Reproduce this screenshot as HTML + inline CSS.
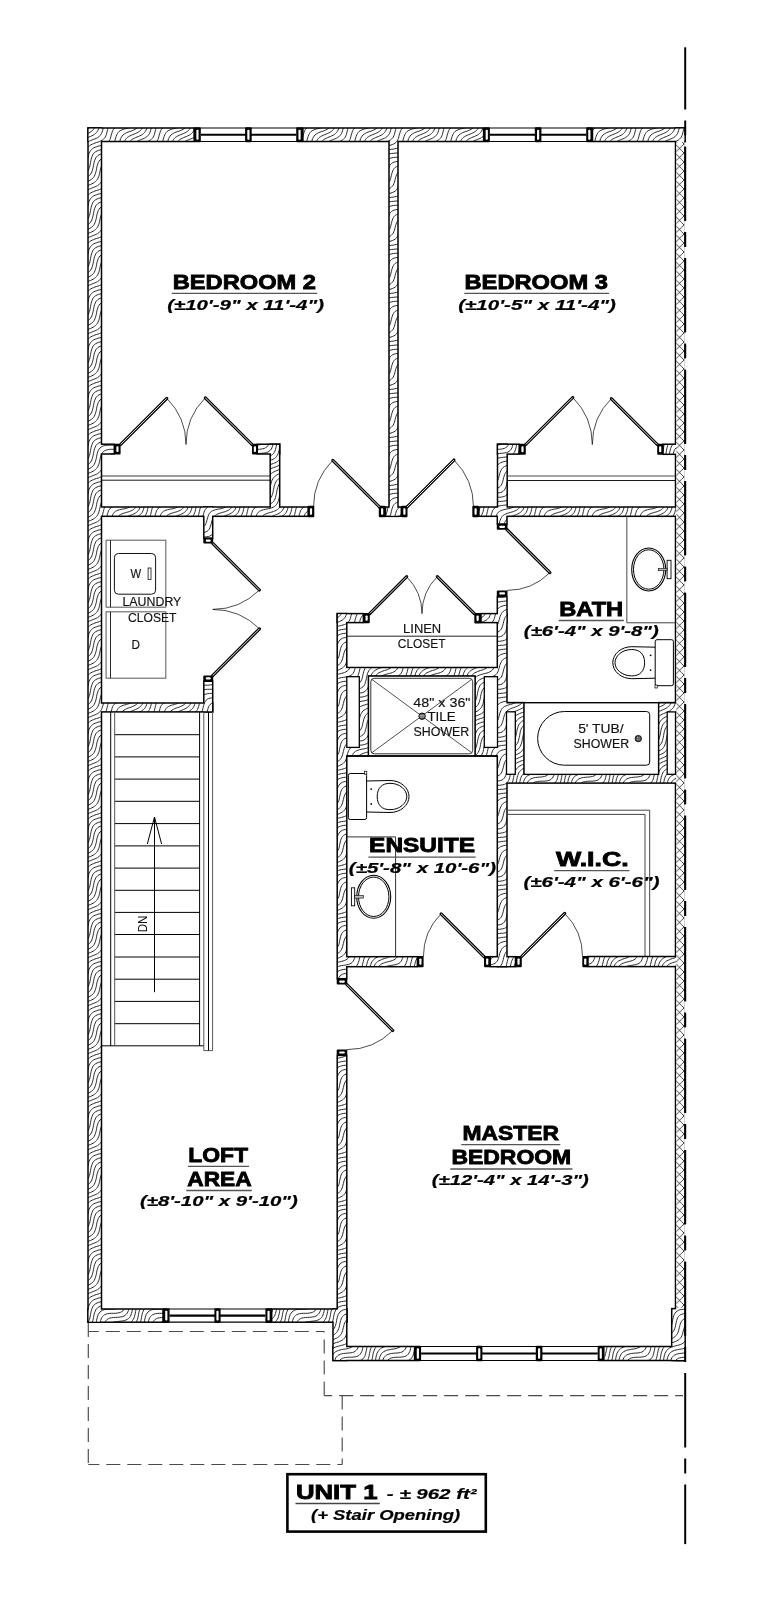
<!DOCTYPE html><html><head><meta charset="utf-8"><style>html,body{margin:0;padding:0;background:#fff;width:783px;height:1597px;overflow:hidden}svg{display:block;filter:grayscale(1)}text{font-family:"Liberation Sans",sans-serif}</style></head><body>
<svg width="783" height="1597" viewBox="0 0 783 1597">
<defs>
<pattern id="h" patternUnits="userSpaceOnUse" width="48" height="48"><rect width="48" height="48" fill="#fff"/><path d="M6.2,-3.8 L4.9,-3.1 L3.5,-2.5 L2.1,-1.9 L0.5,-1.5 L-1.0,-1.0 L-2.4,-0.4 L-3.8,0.2 M13.1,-2.9 L12.2,-1.8 L11.1,-0.9 L9.9,-0.1 L8.5,0.5 L7.0,1.0 L5.4,1.4 L3.8,1.8 L2.2,2.2 L0.7,2.7 L-0.8,3.2 L-2.2,3.8 L-3.4,4.6 M18.9,-3.1 L18.4,-1.6 L17.9,-0.1 L17.2,1.2 L16.3,2.3 L15.2,3.2 L13.9,3.9 L12.4,4.4 L10.8,4.8 L9.1,5.1 L7.3,5.3 L5.6,5.6 L4.0,6.0 L2.4,6.4 L1.0,7.0 L-0.3,7.7 L-1.5,8.5 L-2.4,9.6 L-3.2,10.8 L-3.9,12.1 M24.1,-3.9 L23.7,-2.3 L23.3,-0.7 L22.9,0.9 L22.4,2.4 L21.9,3.9 L21.2,5.2 L20.3,6.3 L19.2,7.2 L18.0,8.0 L16.5,8.5 L14.8,8.8 L13.0,9.0 L11.1,9.1 L9.3,9.3 L7.5,9.5 L5.8,9.8 L4.3,10.3 L2.9,10.9 L1.7,11.7 L0.7,12.7 L-0.2,13.8 L-0.8,15.2 L-1.4,16.6 L-1.8,18.2 L-2.2,19.8 L-2.5,21.5 L-2.8,23.2 L-3.2,24.8 L-3.6,26.4 M28.8,-3.2 L28.2,-1.8 L27.7,-0.3 L27.3,1.3 L26.9,2.9 L26.6,4.6 L26.2,6.2 L25.7,7.7 L25.0,9.0 L24.2,10.2 L23.2,11.2 L22.0,12.0 L20.5,12.5 L18.9,12.9 L17.1,13.1 L15.2,13.2 L13.2,13.2 L11.3,13.3 L9.5,13.5 L7.8,13.8 L6.3,14.3 L5.1,15.1 L4.0,16.0 L3.1,17.1 L2.3,18.3 L1.8,19.8 L1.3,21.3 L0.9,22.9 L0.6,24.6 L0.3,26.3 L-0.1,27.9 L-0.5,29.5 L-1.1,30.9 L-1.7,32.3 L-2.6,33.4 L-3.5,34.5 M34.6,-3.4 L33.6,-2.4 L32.8,-1.2 L32.1,0.1 L31.5,1.5 L31.1,3.1 L30.7,4.7 L30.4,6.4 L30.0,8.0 L29.6,9.6 L29.2,11.2 L28.6,12.6 L27.8,13.8 L26.9,14.9 L25.7,15.7 L24.4,16.4 L22.8,16.8 L21.1,17.1 L19.3,17.3 L17.3,17.3 L15.3,17.3 L13.4,17.4 L11.7,17.7 L10.1,18.1 L8.7,18.7 L7.5,19.5 L6.5,20.5 L5.7,21.7 L5.1,23.1 L4.6,24.6 L4.2,26.2 L3.9,27.9 L3.5,29.5 L3.2,31.2 L2.7,32.7 L2.1,34.1 L1.4,35.4 L0.5,36.5 L-0.5,37.5 L-1.6,38.4 L-2.8,39.2 M42.6,-3.4 L41.2,-2.8 L39.9,-2.1 L38.7,-1.3 L37.6,-0.4 L36.7,0.7 L35.9,1.9 L35.2,3.2 L34.7,4.7 L34.2,6.2 L33.9,7.9 L33.5,9.5 L33.2,11.2 L32.9,12.9 L32.4,14.4 L31.9,15.9 L31.2,17.2 L30.3,18.3 L29.2,19.2 L28.0,20.0 L26.6,20.6 L24.9,20.9 L23.2,21.2 L21.3,21.3 L19.4,21.4 L17.5,21.5 L15.7,21.7 L14.0,22.0 L12.6,22.6 L11.3,23.3 L10.3,24.3 L9.4,25.4 L8.8,26.8 L8.2,28.2 L7.8,29.8 L7.4,31.4 L7.0,33.0 L6.6,34.6 L6.1,36.1 L5.5,37.5 L4.7,38.7 L3.8,39.8 L2.8,40.8 L1.6,41.6 L0.3,42.3 L-1.1,42.9 L-2.6,43.4 M50.1,-1.9 L48.5,-1.5 L47.0,-1.0 L45.6,-0.4 L44.2,0.2 L42.8,0.8 L41.6,1.6 L40.6,2.6 L39.6,3.6 L38.8,4.8 L38.2,6.2 L37.7,7.7 L37.2,9.2 L36.9,10.9 L36.6,12.6 L36.3,14.3 L35.9,15.9 L35.5,17.5 L35.0,19.0 L34.3,20.3 L33.5,21.5 L32.5,22.5 L31.3,23.3 L30.0,24.0 L28.5,24.5 L26.9,24.9 L25.1,25.1 L23.3,25.3 L21.5,25.5 L19.8,25.8 L18.1,26.1 L16.6,26.6 L15.3,27.3 L14.2,28.2 L13.4,29.4 L12.6,30.6 L12.1,32.1 L11.6,33.6 L11.2,35.2 L10.8,36.8 L10.4,38.4 L9.8,39.8 L9.2,41.2 L8.3,42.3 L7.3,43.3 L6.2,44.2 L4.9,44.9 L3.5,45.5 L2.1,46.1 L0.5,46.5 L-1.0,47.0 L-2.4,47.6 L-3.8,48.2 M51.8,1.8 L50.2,2.2 L48.7,2.7 L47.2,3.2 L45.8,3.8 L44.6,4.6 L43.5,5.5 L42.6,6.6 L41.8,7.8 L41.1,9.1 L40.6,10.6 L40.2,12.2 L39.9,13.9 L39.6,15.6 L39.3,17.3 L38.9,18.9 L38.5,20.5 L38.0,22.0 L37.3,23.3 L36.5,24.5 L35.6,25.6 L34.5,26.5 L33.2,27.2 L31.8,27.8 L30.3,28.3 L28.7,28.7 L27.0,29.0 L25.3,29.3 L23.7,29.7 L22.1,30.1 L20.7,30.7 L19.4,31.4 L18.3,32.3 L17.4,33.4 L16.7,34.7 L16.1,36.1 L15.7,37.7 L15.2,39.2 L14.8,40.8 L14.4,42.4 L13.8,43.8 L13.1,45.1 L12.2,46.2 L11.1,47.1 L9.9,47.9 L8.5,48.5 L7.0,49.0 L5.4,49.4 L3.8,49.8 L2.2,50.2 L0.7,50.7 L-0.8,51.2 M52.0,6.0 L50.4,6.4 L49.0,7.0 L47.7,7.7 L46.5,8.5 L45.6,9.6 L44.8,10.8 L44.1,12.1 L43.6,13.6 L43.2,15.2 L42.8,16.8 L42.5,18.5 L42.2,20.2 L41.9,21.9 L41.4,23.4 L40.9,24.9 L40.3,26.3 L39.5,27.5 L38.6,28.6 L37.5,29.5 L36.3,30.3 L34.9,30.9 L33.5,31.5 L32.0,32.0 L30.4,32.4 L28.9,32.9 L27.3,33.3 L25.9,33.9 L24.5,34.5 L23.3,35.3 L22.3,36.3 L21.5,37.5 L20.8,38.8 L20.2,40.2 L19.7,41.7 L19.3,43.3 L18.9,44.9 L18.4,46.4 L17.9,47.9 L17.2,49.2 L16.3,50.3 L15.2,51.2 L13.9,51.9 M50.9,10.9 L49.7,11.7 L48.7,12.7 L47.8,13.8 L47.2,15.2 L46.6,16.6 L46.2,18.2 L45.8,19.8 L45.5,21.5 L45.2,23.2 L44.8,24.8 L44.4,26.4 L43.9,27.9 L43.2,29.2 L42.4,30.4 L41.5,31.5 L40.4,32.4 L39.2,33.2 L37.9,33.9 L36.5,34.5 L35.1,35.1 L33.6,35.6 L32.1,36.1 L30.7,36.7 L29.4,37.4 L28.1,38.1 L27.0,39.0 L26.1,40.1 L25.3,41.3 L24.6,42.6 L24.1,44.1 L23.7,45.7 L23.3,47.3 L22.9,48.9 L22.4,50.4 L21.9,51.9 M52.0,16.0 L51.1,17.1 L50.3,18.3 L49.8,19.8 L49.3,21.3 L48.9,22.9 L48.6,24.6 L48.3,26.3 L47.9,27.9 L47.5,29.5 L46.9,30.9 L46.3,32.3 L45.4,33.4 L44.5,34.5 L43.4,35.4 L42.2,36.2 L40.9,36.9 L39.5,37.5 L38.1,38.1 L36.7,38.7 L35.2,39.2 L33.9,39.9 L32.6,40.6 L31.4,41.4 L30.4,42.4 L29.5,43.5 L28.8,44.8 L28.2,46.2 L27.7,47.7 L27.3,49.3 L26.9,50.9 M51.9,27.9 L51.5,29.5 L51.2,31.2 L50.7,32.7 L50.1,34.1 L49.4,35.4 L48.5,36.5 L47.5,37.5 L46.4,38.4 L45.2,39.2 L43.8,39.8 L42.5,40.5 L41.0,41.0 L39.6,41.6 L38.2,42.2 L36.9,42.9 L35.7,43.7 L34.6,44.6 L33.6,45.6 L32.8,46.8 L32.1,48.1 L31.5,49.5 L31.1,51.1 M51.8,39.8 L50.8,40.8 L49.6,41.6 L48.3,42.3 L46.9,42.9 L45.4,43.4 L44.0,44.0 L42.6,44.6 L41.2,45.2 L39.9,45.9 L38.7,46.7 L37.6,47.6 L36.7,48.7 L35.9,49.9 L35.2,51.2 M51.5,45.5 L50.1,46.1 L48.5,46.5 L47.0,47.0 L45.6,47.6 L44.2,48.2 L42.8,48.8 L41.6,49.6 L40.6,50.6 L39.6,51.6 M51.8,49.8 L50.2,50.2 L48.7,50.7 L47.2,51.2 L45.8,51.8" fill="none" stroke="#111" stroke-width="0.9" stroke-linejoin="round"/></pattern>
<pattern id="xh" patternUnits="userSpaceOnUse" width="9.5" height="9"><rect width="9.5" height="9" fill="#fff"/><path d="M-1,10 C3,6.5 6,3.5 10.5,-1 M-1,-1 C3,2 6,5.5 10.5,10" stroke="#333" stroke-width="0.95" fill="none"/></pattern>
</defs>
<rect width="783" height="1597" fill="#fff"/>
<g fill="#000">
<rect x="87.25" y="127.25" width="107.60" height="15.00" />
<rect x="302.15" y="127.25" width="182.20" height="15.00" />
<rect x="591.75" y="127.25" width="94.00" height="15.00" />
<rect x="87.25" y="127.25" width="15.00" height="1195.70" />
<rect x="674.75" y="127.25" width="11.00" height="1234.00" />
<rect x="670.95" y="1307.85" width="14.80" height="53.40" />
<rect x="87.25" y="1308.25" width="76.50" height="14.70" />
<rect x="270.95" y="1308.25" width="76.60" height="14.70" />
<rect x="332.25" y="1308.25" width="15.30" height="53.00" />
<rect x="332.25" y="1345.75" width="83.10" height="15.50" />
<rect x="603.05" y="1345.75" width="82.70" height="15.50" />
<rect x="388.25" y="129.25" width="10.50" height="387.80" />
<rect x="89.25" y="443.45" width="25.80" height="11.30" />
<rect x="256.55" y="443.45" width="23.90" height="11.30" />
<rect x="269.45" y="443.45" width="11.00" height="73.60" />
<rect x="89.25" y="506.25" width="219.80" height="10.80" />
<rect x="384.75" y="506.25" width="17.30" height="10.80" />
<rect x="478.15" y="506.25" width="205.60" height="10.80" />
<rect x="496.75" y="443.45" width="11.20" height="73.60" />
<rect x="496.75" y="443.45" width="23.20" height="11.40" />
<rect x="662.25" y="443.45" width="21.50" height="11.60" />
<rect x="203.05" y="506.25" width="10.40" height="32.70" />
<rect x="203.05" y="680.45" width="10.40" height="32.20" />
<rect x="89.25" y="702.25" width="124.20" height="10.40" />
<rect x="496.55" y="506.25" width="11.20" height="18.60" />
<rect x="496.55" y="595.75" width="11.20" height="371.60" />
<rect x="336.45" y="612.85" width="11.10" height="366.60" />
<rect x="336.45" y="1054.65" width="11.10" height="268.10" />
<rect x="336.45" y="612.85" width="27.70" height="10.50" />
<rect x="480.25" y="612.85" width="27.50" height="10.50" />
<rect x="337.25" y="666.75" width="169.50" height="10.10" />
<rect x="337.25" y="667.25" width="32.00" height="89.50" />
<rect x="474.25" y="667.25" width="32.50" height="89.50" />
<rect x="497.25" y="701.85" width="27.60" height="80.90" />
<rect x="657.75" y="701.85" width="26.00" height="80.90" />
<rect x="497.25" y="773.55" width="186.50" height="10.30" />
<rect x="337.25" y="955.95" width="80.90" height="11.50" />
<rect x="489.45" y="955.95" width="26.80" height="11.50" />
<rect x="587.15" y="955.75" width="96.60" height="11.60" />
</g><g fill="url(#h)">
<rect x="88.75" y="128.75" width="104.60" height="12.00" />
<rect x="303.65" y="128.75" width="179.20" height="12.00" />
<rect x="593.25" y="128.75" width="91.00" height="12.00" />
<rect x="88.75" y="128.75" width="12.00" height="1192.70" />
<rect x="676.25" y="128.75" width="8.00" height="1231.00" />
<rect x="672.45" y="1309.35" width="11.80" height="50.40" />
<rect x="88.75" y="1309.75" width="73.50" height="11.70" />
<rect x="272.45" y="1309.75" width="73.60" height="11.70" />
<rect x="333.75" y="1309.75" width="12.30" height="50.00" />
<rect x="333.75" y="1347.25" width="80.10" height="12.50" />
<rect x="604.55" y="1347.25" width="79.70" height="12.50" />
<rect x="389.75" y="130.75" width="7.50" height="384.80" />
<rect x="90.75" y="444.95" width="22.80" height="8.30" />
<rect x="258.05" y="444.95" width="20.90" height="8.30" />
<rect x="270.95" y="444.95" width="8.00" height="70.60" />
<rect x="90.75" y="507.75" width="216.80" height="7.80" />
<rect x="386.25" y="507.75" width="14.30" height="7.80" />
<rect x="479.65" y="507.75" width="202.60" height="7.80" />
<rect x="498.25" y="444.95" width="8.20" height="70.60" />
<rect x="498.25" y="444.95" width="20.20" height="8.40" />
<rect x="663.75" y="444.95" width="18.50" height="8.60" />
<rect x="204.55" y="507.75" width="7.40" height="29.70" />
<rect x="204.55" y="681.95" width="7.40" height="29.20" />
<rect x="90.75" y="703.75" width="121.20" height="7.40" />
<rect x="498.05" y="507.75" width="8.20" height="15.60" />
<rect x="498.05" y="597.25" width="8.20" height="368.60" />
<rect x="337.95" y="614.35" width="8.10" height="363.60" />
<rect x="337.95" y="1056.15" width="8.10" height="265.10" />
<rect x="337.95" y="614.35" width="24.70" height="7.50" />
<rect x="481.75" y="614.35" width="24.50" height="7.50" />
<rect x="338.75" y="668.25" width="166.50" height="7.10" />
<rect x="338.75" y="668.75" width="29.00" height="86.50" />
<rect x="475.75" y="668.75" width="29.50" height="86.50" />
<rect x="498.75" y="703.35" width="24.60" height="77.90" />
<rect x="659.25" y="703.35" width="23.00" height="77.90" />
<rect x="498.75" y="775.05" width="183.50" height="7.30" />
<rect x="338.75" y="957.45" width="77.90" height="8.50" />
<rect x="490.95" y="957.45" width="23.80" height="8.50" />
<rect x="588.65" y="957.25" width="93.60" height="8.60" />
</g>
<rect x="676.25" y="142.20" width="8.00" height="1165.60" fill="url(#xh)"/>
<rect x="346.80" y="676.70" width="12.50" height="70.70" fill="#fff" stroke="#000" stroke-width="1.3"/>
<rect x="484.30" y="676.70" width="13.20" height="70.70" fill="#fff" stroke="#000" stroke-width="1.3"/>
<rect x="506.50" y="711.80" width="8.80" height="62.50" fill="#fff" stroke="#000" stroke-width="1.3"/>
<rect x="667.20" y="711.90" width="8.30" height="62.40" fill="#fff" stroke="#000" stroke-width="1.3"/>
<rect x="114.30" y="443.70" width="6.30" height="10.80" fill="#000" rx="1"/><rect x="116.35" y="446.20" width="2.20" height="5.80" fill="#fff" rx="0.8"/>
<rect x="252.00" y="443.70" width="5.80" height="10.80" fill="#000" rx="1"/><rect x="253.80" y="446.20" width="2.20" height="5.80" fill="#fff" rx="0.8"/>
<rect x="307.70" y="505.70" width="6.60" height="11.50" fill="#000" rx="1"/><rect x="309.90" y="508.20" width="2.20" height="6.50" fill="#fff" rx="0.8"/>
<rect x="378.80" y="505.70" width="6.70" height="11.50" fill="#000" rx="1"/><rect x="381.05" y="508.20" width="2.20" height="6.50" fill="#fff" rx="0.8"/>
<rect x="401.30" y="505.70" width="6.20" height="11.50" fill="#000" rx="1"/><rect x="403.30" y="508.20" width="2.20" height="6.50" fill="#fff" rx="0.8"/>
<rect x="472.30" y="505.70" width="6.60" height="11.50" fill="#000" rx="1"/><rect x="474.50" y="508.20" width="2.20" height="6.50" fill="#fff" rx="0.8"/>
<rect x="519.20" y="443.80" width="6.60" height="11.00" fill="#000" rx="1"/><rect x="521.40" y="446.30" width="2.20" height="6.00" fill="#fff" rx="0.8"/>
<rect x="657.20" y="443.80" width="6.00" height="11.00" fill="#000" rx="1"/><rect x="659.10" y="446.30" width="2.20" height="6.00" fill="#fff" rx="0.8"/>
<rect x="203.30" y="537.80" width="9.90" height="5.80" fill="#000" rx="1"/><rect x="205.80" y="539.60" width="4.90" height="2.20" fill="#fff" rx="0.8"/>
<rect x="203.30" y="675.40" width="9.90" height="6.00" fill="#000" rx="1"/><rect x="205.80" y="677.30" width="4.90" height="2.20" fill="#fff" rx="0.8"/>
<rect x="496.80" y="523.80" width="10.70" height="6.00" fill="#000" rx="1"/><rect x="499.30" y="525.70" width="5.70" height="2.20" fill="#fff" rx="0.8"/>
<rect x="496.80" y="590.40" width="10.70" height="6.10" fill="#000" rx="1"/><rect x="499.30" y="592.35" width="5.70" height="2.20" fill="#fff" rx="0.8"/>
<rect x="363.40" y="613.00" width="6.40" height="10.20" fill="#000" rx="1"/><rect x="365.50" y="615.50" width="2.20" height="5.20" fill="#fff" rx="0.8"/>
<rect x="474.30" y="613.00" width="6.70" height="10.40" fill="#000" rx="1"/><rect x="476.55" y="615.50" width="2.20" height="5.40" fill="#fff" rx="0.8"/>
<rect x="417.20" y="956.00" width="6.40" height="11.30" fill="#000" rx="1"/><rect x="419.30" y="958.50" width="2.20" height="6.30" fill="#fff" rx="0.8"/>
<rect x="484.00" y="956.00" width="6.40" height="11.30" fill="#000" rx="1"/><rect x="486.10" y="958.50" width="2.20" height="6.30" fill="#fff" rx="0.8"/>
<rect x="515.30" y="956.00" width="6.50" height="11.30" fill="#000" rx="1"/><rect x="517.45" y="958.50" width="2.20" height="6.30" fill="#fff" rx="0.8"/>
<rect x="582.30" y="956.00" width="5.90" height="11.30" fill="#000" rx="1"/><rect x="584.15" y="958.50" width="2.20" height="6.30" fill="#fff" rx="0.8"/>
<rect x="336.70" y="978.50" width="10.60" height="6.10" fill="#000" rx="1"/><rect x="339.20" y="980.45" width="5.60" height="2.20" fill="#fff" rx="0.8"/>
<rect x="336.70" y="1049.50" width="10.60" height="6.00" fill="#000" rx="1"/><rect x="339.20" y="1051.40" width="5.60" height="2.20" fill="#fff" rx="0.8"/>
<g stroke="#000" fill="none"><line x1="194.1" y1="128" x2="302.9" y2="128" stroke-width="1.2"/><line x1="194.1" y1="141.5" x2="302.9" y2="141.5" stroke-width="1.2"/><line x1="200.8" y1="134.75" x2="296.2" y2="134.75" stroke-width="2.2"/></g><rect x="194.10" y="127.20" width="6.70" height="15.10" fill="#000" rx="1"/><rect x="196.35" y="129.70" width="2.20" height="10.10" fill="#fff" rx="0.8"/><rect x="245.10" y="127.20" width="6.60" height="15.10" fill="#000" rx="1"/><rect x="247.30" y="129.70" width="2.20" height="10.10" fill="#fff" rx="0.8"/><rect x="296.20" y="127.20" width="6.70" height="15.10" fill="#000" rx="1"/><rect x="298.45" y="129.70" width="2.20" height="10.10" fill="#fff" rx="0.8"/>
<g stroke="#000" fill="none"><line x1="483.6" y1="128" x2="592.5" y2="128" stroke-width="1.2"/><line x1="483.6" y1="141.5" x2="592.5" y2="141.5" stroke-width="1.2"/><line x1="489.9" y1="134.75" x2="586.2" y2="134.75" stroke-width="2.2"/></g><rect x="483.60" y="127.20" width="6.30" height="15.10" fill="#000" rx="1"/><rect x="485.65" y="129.70" width="2.20" height="10.10" fill="#fff" rx="0.8"/><rect x="534.80" y="127.20" width="6.60" height="15.10" fill="#000" rx="1"/><rect x="537.00" y="129.70" width="2.20" height="10.10" fill="#fff" rx="0.8"/><rect x="586.20" y="127.20" width="6.30" height="15.10" fill="#000" rx="1"/><rect x="588.25" y="129.70" width="2.20" height="10.10" fill="#fff" rx="0.8"/>
<g stroke="#000" fill="none"><line x1="163" y1="1309" x2="271.7" y2="1309" stroke-width="1.2"/><line x1="163" y1="1322.2" x2="271.7" y2="1322.2" stroke-width="1.2"/><line x1="169.6" y1="1315.6" x2="265.4" y2="1315.6" stroke-width="2.2"/></g><rect x="163.00" y="1308.20" width="6.60" height="14.80" fill="#000" rx="1"/><rect x="165.20" y="1310.70" width="2.20" height="9.80" fill="#fff" rx="0.8"/><rect x="214.40" y="1308.20" width="6.20" height="14.80" fill="#000" rx="1"/><rect x="216.40" y="1310.70" width="2.20" height="9.80" fill="#fff" rx="0.8"/><rect x="265.40" y="1308.20" width="6.30" height="14.80" fill="#000" rx="1"/><rect x="267.45" y="1310.70" width="2.20" height="9.80" fill="#fff" rx="0.8"/>
<g stroke="#000" fill="none"><line x1="414.6" y1="1346.5" x2="603.8" y2="1346.5" stroke-width="1.2"/><line x1="414.6" y1="1360.5" x2="603.8" y2="1360.5" stroke-width="1.2"/><line x1="421.1" y1="1353.5" x2="597.7" y2="1353.5" stroke-width="2.2"/></g><rect x="414.60" y="1345.70" width="6.50" height="15.60" fill="#000" rx="1"/><rect x="416.75" y="1348.20" width="2.20" height="10.60" fill="#fff" rx="0.8"/><rect x="476.10" y="1345.70" width="6.30" height="15.60" fill="#000" rx="1"/><rect x="478.15" y="1348.20" width="2.20" height="10.60" fill="#fff" rx="0.8"/><rect x="535.80" y="1345.70" width="6.60" height="15.60" fill="#000" rx="1"/><rect x="538.00" y="1348.20" width="2.20" height="10.60" fill="#fff" rx="0.8"/><rect x="597.70" y="1345.70" width="6.10" height="15.60" fill="#000" rx="1"/><rect x="599.65" y="1348.20" width="2.20" height="10.60" fill="#fff" rx="0.8"/>
<path d="M166.8,398.3 A65.4,65.4 0 0 1 186.0,444.5" fill="none" stroke="#000" stroke-width="0.7"/><line x1="120.6" y1="444.5" x2="166.8" y2="398.3" stroke="#000" stroke-width="3.1" stroke-linecap="round"/><line x1="120.6" y1="444.5" x2="166.8" y2="398.3" stroke="#fff" stroke-width="0.9"/>
<path d="M205.3,397.8 A66.0,66.0 0 0 0 186.0,444.5" fill="none" stroke="#000" stroke-width="0.7"/><line x1="252" y1="444.5" x2="205.3" y2="397.8" stroke="#000" stroke-width="3.1" stroke-linecap="round"/><line x1="252" y1="444.5" x2="205.3" y2="397.8" stroke="#fff" stroke-width="0.9"/>
<path d="M332.8,460.3 A66.0,66.0 0 0 0 313.5,507.0" fill="none" stroke="#000" stroke-width="0.7"/><line x1="379.5" y1="507" x2="332.8" y2="460.3" stroke="#000" stroke-width="3.1" stroke-linecap="round"/><line x1="379.5" y1="507" x2="332.8" y2="460.3" stroke="#fff" stroke-width="0.9"/>
<path d="M454.0,460.0 A66.5,66.5 0 0 1 473.5,507.0" fill="none" stroke="#000" stroke-width="0.7"/><line x1="407" y1="507" x2="454.0" y2="460.0" stroke="#000" stroke-width="3.1" stroke-linecap="round"/><line x1="407" y1="507" x2="454.0" y2="460.0" stroke="#fff" stroke-width="0.9"/>
<path d="M572.8,397.5 A66.5,66.5 0 0 1 592.3,444.5" fill="none" stroke="#000" stroke-width="0.7"/><line x1="525.8" y1="444.5" x2="572.8" y2="397.5" stroke="#000" stroke-width="3.1" stroke-linecap="round"/><line x1="525.8" y1="444.5" x2="572.8" y2="397.5" stroke="#fff" stroke-width="0.9"/>
<path d="M611.3,398.6 A64.9,64.9 0 0 0 592.3,444.5" fill="none" stroke="#000" stroke-width="0.7"/><line x1="657.2" y1="444.5" x2="611.3" y2="398.6" stroke="#000" stroke-width="3.1" stroke-linecap="round"/><line x1="657.2" y1="444.5" x2="611.3" y2="398.6" stroke="#fff" stroke-width="0.9"/>
<path d="M259.4,590.0 A66.1,66.1 0 0 1 212.7,609.4" fill="none" stroke="#000" stroke-width="0.7"/><line x1="212.7" y1="543.3" x2="259.4" y2="590.0" stroke="#000" stroke-width="3.1" stroke-linecap="round"/><line x1="212.7" y1="543.3" x2="259.4" y2="590.0" stroke="#fff" stroke-width="0.9"/>
<path d="M259.5,628.8 A66.2,66.2 0 0 0 212.7,609.4" fill="none" stroke="#000" stroke-width="0.7"/><line x1="212.7" y1="675.6" x2="259.5" y2="628.8" stroke="#000" stroke-width="3.1" stroke-linecap="round"/><line x1="212.7" y1="675.6" x2="259.5" y2="628.8" stroke="#fff" stroke-width="0.9"/>
<path d="M549.9,572.6 A60.7,60.7 0 0 1 507.0,590.4" fill="none" stroke="#000" stroke-width="0.7"/><line x1="507" y1="529.7" x2="549.9" y2="572.6" stroke="#000" stroke-width="3.1" stroke-linecap="round"/><line x1="507" y1="529.7" x2="549.9" y2="572.6" stroke="#fff" stroke-width="0.9"/>
<path d="M406.7,576.7 A52.2,52.2 0 0 1 422.0,613.6" fill="none" stroke="#000" stroke-width="0.7"/><line x1="369.8" y1="613.6" x2="406.7" y2="576.7" stroke="#000" stroke-width="3.1" stroke-linecap="round"/><line x1="369.8" y1="613.6" x2="406.7" y2="576.7" stroke="#fff" stroke-width="0.9"/>
<path d="M437.3,576.6 A52.3,52.3 0 0 0 422.0,613.6" fill="none" stroke="#000" stroke-width="0.7"/><line x1="474.3" y1="613.6" x2="437.3" y2="576.6" stroke="#000" stroke-width="3.1" stroke-linecap="round"/><line x1="474.3" y1="613.6" x2="437.3" y2="576.6" stroke="#fff" stroke-width="0.9"/>
<path d="M441.1,913.8 A60.6,60.6 0 0 0 423.4,956.7" fill="none" stroke="#000" stroke-width="0.7"/><line x1="484" y1="956.7" x2="441.1" y2="913.8" stroke="#000" stroke-width="3.1" stroke-linecap="round"/><line x1="484" y1="956.7" x2="441.1" y2="913.8" stroke="#fff" stroke-width="0.9"/>
<path d="M564.7,913.4 A60.9,60.9 0 0 1 582.5,956.5" fill="none" stroke="#000" stroke-width="0.7"/><line x1="521.6" y1="956.5" x2="564.7" y2="913.4" stroke="#000" stroke-width="3.1" stroke-linecap="round"/><line x1="521.6" y1="956.5" x2="564.7" y2="913.4" stroke="#fff" stroke-width="0.9"/>
<path d="M392.8,1030.5 A65.1,65.1 0 0 1 346.8,1049.6" fill="none" stroke="#000" stroke-width="0.7"/><line x1="346.8" y1="984.5" x2="392.8" y2="1030.5" stroke="#000" stroke-width="3.1" stroke-linecap="round"/><line x1="346.8" y1="984.5" x2="392.8" y2="1030.5" stroke="#fff" stroke-width="0.9"/>
<line x1="101.5" y1="476" x2="270.2" y2="476" stroke="#222" stroke-width="0.9" />
<line x1="101.5" y1="480.2" x2="270.2" y2="480.2" stroke="#000" stroke-width="0.9" />
<line x1="507.2" y1="476" x2="675.5" y2="476" stroke="#333" stroke-width="0.9" />
<line x1="507.2" y1="480.5" x2="675.5" y2="480.5" stroke="#000" stroke-width="0.9" />
<line x1="346.8" y1="636.2" x2="497.3" y2="636.2" stroke="#222" stroke-width="1.0" />
<line x1="626.8" y1="516.5" x2="626.8" y2="622.8" stroke="#666" stroke-width="1.2" />
<line x1="626.8" y1="622.8" x2="675.5" y2="622.8" stroke="#444" stroke-width="1.0" />
<ellipse cx="648.7" cy="569.5" rx="17" ry="21.5" fill="#fff" stroke="#000" stroke-width="1.1"/><ellipse cx="648.7" cy="569.5" rx="15.2" ry="19.7" fill="none" stroke="#000" stroke-width="1.0"/><rect x="667.10" y="560.30" width="3.90" height="18.40" fill="#fff" stroke="#000" stroke-width="0.9"/><rect x="658.30" y="568.30" width="8.80" height="2.40" fill="#bbb" stroke="#000" stroke-width="0.6"/>
<ellipse cx="373.7" cy="896.8" rx="17" ry="21.5" fill="#fff" stroke="#000" stroke-width="1.1"/><ellipse cx="373.7" cy="896.8" rx="15.2" ry="19.7" fill="none" stroke="#000" stroke-width="1.0"/><rect x="351.40" y="887.80" width="3.30" height="18.00" fill="#fff" stroke="#000" stroke-width="0.9"/><rect x="354.70" y="895.50" width="8.70" height="2.60" fill="#bbb" stroke="#000" stroke-width="0.6"/>
<g transform="translate(348,796.5)"><path d="M18.5,-15.5 L42,-16 A19,16 0 0 1 42,16 L18.5,15.5" fill="#fff" stroke="#000" stroke-width="1.0"/><path d="M29.2,0 C29.2,-8.5 34,-13.2 42,-13.2 C52,-13.2 58.8,-6.5 58.8,0 C58.8,6.5 52,13.2 42,13.2 C34,13.2 29.2,8.5 29.2,0Z" fill="none" stroke="#000" stroke-width="1.0"/><rect x="0.4" y="-23" width="18.2" height="46" rx="1.8" fill="#fff" stroke="#000" stroke-width="1.0"/><rect x="16.6" y="-25.3" width="2.2" height="3" fill="#fff" stroke="#000" stroke-width="0.7"/><circle cx="23.2" cy="-7.4" r="0.9" fill="#000"/><circle cx="23.2" cy="7.4" r="0.9" fill="#000"/></g>
<g transform="translate(673.8,662.7) rotate(180)"><path d="M18.5,-15.5 L42,-16 A19,16 0 0 1 42,16 L18.5,15.5" fill="#fff" stroke="#000" stroke-width="1.0"/><path d="M29.2,0 C29.2,-8.5 34,-13.2 42,-13.2 C52,-13.2 58.8,-6.5 58.8,0 C58.8,6.5 52,13.2 42,13.2 C34,13.2 29.2,8.5 29.2,0Z" fill="none" stroke="#000" stroke-width="1.0"/><rect x="0.4" y="-23" width="18.2" height="46" rx="1.8" fill="#fff" stroke="#000" stroke-width="1.0"/><rect x="16.6" y="-25.3" width="2.2" height="3" fill="#fff" stroke="#000" stroke-width="0.7"/><circle cx="23.2" cy="-7.4" r="0.9" fill="#000"/><circle cx="23.2" cy="7.4" r="0.9" fill="#000"/></g>
<line x1="346.8" y1="836.9" x2="395.6" y2="836.9" stroke="#333" stroke-width="1.0" />
<line x1="395.6" y1="836.9" x2="395.6" y2="956.7" stroke="#333" stroke-width="1.0" />
<rect x="368.50" y="676.10" width="106.50" height="79.90" fill="#fff" stroke="#000" stroke-width="1.3"/>
<rect x="370.80" y="678.30" width="101.90" height="75.50" fill="none" stroke="#333" stroke-width="1.0" rx="3.5"/>
<line x1="372" y1="679.5" x2="471.5" y2="752.6" stroke="#222" stroke-width="0.8" />
<line x1="471.5" y1="679.5" x2="372" y2="752.6" stroke="#222" stroke-width="0.8" />
<circle cx="422.1" cy="716.2" r="3.2" fill="#666" stroke="#000" stroke-width="1.0"/>
<path d="M419.5,715.4 H424.7 M419.5,717 H424.7" stroke="#ccc" stroke-width="0.6"/>
<line x1="346.8" y1="756" x2="497.5" y2="756" stroke="#000" stroke-width="1.3" />
<rect x="524.10" y="702.60" width="134.40" height="71.70" fill="#fff" stroke="#000" stroke-width="1.2"/>
<path d="M564.5,711.5 L646.5,711.5 Q649.7,711.5 649.7,714.7 L649.7,762 Q649.7,765.2 646.5,765.2 L564.5,765.2 A26.85,26.85 0 0 1 564.5,711.5 Z" fill="none" stroke="#000" stroke-width="1.0"/>
<circle cx="638.3" cy="738.6" r="3.2" fill="#333" stroke="#000" stroke-width="0.8"/>
<path d="M635.8,737.8 H640.8 M635.8,739.4 H640.8 M637.5,736.1 V741.1 M639.1,736.1 V741.1" stroke="#aaa" stroke-width="0.5"/>
<line x1="507" y1="702.6" x2="524.1" y2="702.6" stroke="#000" stroke-width="1.2" />
<line x1="524.1" y1="702.6" x2="675.5" y2="702.6" stroke="#000" stroke-width="1.2" />
<path d="M507,810.2 L649.7,810.2 L649.7,956.5 M507,814.4 L645,814.4 L645,956.5" fill="none" stroke="#444" stroke-width="1.0"/>
<rect x="106.10" y="540.20" width="59.70" height="67.00" fill="#fff" stroke="#666" stroke-width="1.1"/>
<line x1="110.5" y1="540.2" x2="110.5" y2="607.2" stroke="#111" stroke-width="0.9" />
<rect x="106.10" y="611.80" width="59.70" height="66.40" fill="#fff" stroke="#666" stroke-width="1.1"/>
<line x1="110.5" y1="611.8" x2="110.5" y2="678.2" stroke="#111" stroke-width="0.9" />
<rect x="114.40" y="553.50" width="41.20" height="40.70" fill="none" stroke="#111" stroke-width="1.0" rx="4"/>
<rect x="148.10" y="568.00" width="2.90" height="11.50" fill="none" stroke="#111" stroke-width="0.8"/>
<g stroke="#000" fill="none">
<line x1="114.7" y1="734.7" x2="199.6" y2="734.7" stroke-width="1.0"/>
<line x1="114.7" y1="756.9" x2="199.6" y2="756.9" stroke-width="1.0"/>
<line x1="114.7" y1="779.1" x2="199.6" y2="779.1" stroke-width="1.0"/>
<line x1="114.7" y1="801.3" x2="199.6" y2="801.3" stroke-width="1.0"/>
<line x1="114.7" y1="823.6" x2="199.6" y2="823.6" stroke-width="1.0"/>
<line x1="114.7" y1="845.9" x2="199.6" y2="845.9" stroke-width="1.0"/>
<line x1="114.7" y1="868.1" x2="199.6" y2="868.1" stroke-width="1.0"/>
<line x1="114.7" y1="890.3" x2="199.6" y2="890.3" stroke-width="1.0"/>
<line x1="114.7" y1="912.4" x2="199.6" y2="912.4" stroke-width="1.0"/>
<line x1="114.7" y1="934.5" x2="199.6" y2="934.5" stroke-width="1.0"/>
<line x1="114.7" y1="957.0" x2="199.6" y2="957.0" stroke-width="1.0"/>
<line x1="114.7" y1="979.2" x2="199.6" y2="979.2" stroke-width="1.0"/>
<line x1="114.7" y1="1001.4" x2="199.6" y2="1001.4" stroke-width="1.0"/>
<line x1="114.7" y1="1023.7" x2="199.6" y2="1023.7" stroke-width="1.0"/>
<line x1="101.5" y1="1045.8" x2="203.8" y2="1045.8" stroke-width="1.0"/>
<line x1="110.7" y1="711.9" x2="110.7" y2="1045.8" stroke-width="1.0"/>
<line x1="114.7" y1="711.9" x2="114.7" y2="1045.8" stroke-width="1.0" stroke="#555"/>
<line x1="199.6" y1="711.9" x2="199.6" y2="1045.8" stroke-width="1.0"/>
<path d="M203.8,711.9 L203.8,1050.6 L212.6,1050.6 L212.6,711.9" stroke-width="1.0" stroke="#555"/>
<line x1="208.5" y1="711.9" x2="208.5" y2="1050.6" stroke-width="1.0"/>
<line x1="154.5" y1="817" x2="154.5" y2="992.2" stroke-width="1.0"/>
<path d="M147.3,844 L154.5,817 L161.6,844" stroke-width="1.0"/>
</g>
<g fill="none" stroke="#4a4a4a" stroke-width="1.15" stroke-dasharray="14 7">
<line x1="88.3" y1="1331.5" x2="324.2" y2="1331.5" stroke-dashoffset="3.5"/>
<line x1="324.2" y1="1395.6" x2="324.2" y2="1331.5" stroke-dashoffset="0"/>
<line x1="324.2" y1="1395.6" x2="683" y2="1395.6" stroke-dashoffset="6"/>
<line x1="88.3" y1="1322" x2="88.3" y2="1464.5" stroke-dashoffset="-1"/>
<line x1="88.3" y1="1464.5" x2="342.2" y2="1464.5" stroke-dashoffset="3"/>
<line x1="342.2" y1="1395.6" x2="342.2" y2="1464.5" stroke-dashoffset="0"/>
</g>
<line x1="685.2" y1="47.3" x2="685.2" y2="109.5" stroke="#000" stroke-width="2"/>
<line x1="685.2" y1="120.5" x2="685.2" y2="135.5" stroke="#000" stroke-width="2"/>
<line x1="685.2" y1="146.5" x2="685.2" y2="221.0" stroke="#000" stroke-width="2"/>
<line x1="685.2" y1="232.0" x2="685.2" y2="247.0" stroke="#000" stroke-width="2"/>
<line x1="685.2" y1="258.0" x2="685.2" y2="332.5" stroke="#000" stroke-width="2"/>
<line x1="685.2" y1="343.5" x2="685.2" y2="358.5" stroke="#000" stroke-width="2"/>
<line x1="685.2" y1="369.5" x2="685.2" y2="444.0" stroke="#000" stroke-width="2"/>
<line x1="685.2" y1="455.0" x2="685.2" y2="470.0" stroke="#000" stroke-width="2"/>
<line x1="685.2" y1="481.0" x2="685.2" y2="555.5" stroke="#000" stroke-width="2"/>
<line x1="685.2" y1="566.5" x2="685.2" y2="581.5" stroke="#000" stroke-width="2"/>
<line x1="685.2" y1="592.5" x2="685.2" y2="667.0" stroke="#000" stroke-width="2"/>
<line x1="685.2" y1="678.0" x2="685.2" y2="693.0" stroke="#000" stroke-width="2"/>
<line x1="685.2" y1="704.0" x2="685.2" y2="778.5" stroke="#000" stroke-width="2"/>
<line x1="685.2" y1="789.5" x2="685.2" y2="804.5" stroke="#000" stroke-width="2"/>
<line x1="685.2" y1="815.5" x2="685.2" y2="890.0" stroke="#000" stroke-width="2"/>
<line x1="685.2" y1="901.0" x2="685.2" y2="916.0" stroke="#000" stroke-width="2"/>
<line x1="685.2" y1="927.0" x2="685.2" y2="1001.5" stroke="#000" stroke-width="2"/>
<line x1="685.2" y1="1012.5" x2="685.2" y2="1027.5" stroke="#000" stroke-width="2"/>
<line x1="685.2" y1="1038.5" x2="685.2" y2="1113.0" stroke="#000" stroke-width="2"/>
<line x1="685.2" y1="1124.0" x2="685.2" y2="1139.0" stroke="#000" stroke-width="2"/>
<line x1="685.2" y1="1150.0" x2="685.2" y2="1224.5" stroke="#000" stroke-width="2"/>
<line x1="685.2" y1="1235.5" x2="685.2" y2="1250.5" stroke="#000" stroke-width="2"/>
<line x1="685.2" y1="1261.5" x2="685.2" y2="1336.0" stroke="#000" stroke-width="2"/>
<line x1="685.2" y1="1347.0" x2="685.2" y2="1362.0" stroke="#000" stroke-width="2"/>
<line x1="685.2" y1="1373.0" x2="685.2" y2="1447.5" stroke="#000" stroke-width="2"/>
<line x1="685.2" y1="1458.5" x2="685.2" y2="1473.5" stroke="#000" stroke-width="2"/>
<line x1="685.2" y1="1484.5" x2="685.2" y2="1544.1" stroke="#000" stroke-width="2"/>
<rect x="684.30" y="142.50" width="2.70" height="4.00" fill="#fff"/>
<rect x="684.30" y="221.00" width="2.70" height="11.00" fill="#fff"/>
<rect x="684.30" y="247.00" width="2.70" height="11.00" fill="#fff"/>
<rect x="684.30" y="332.50" width="2.70" height="11.00" fill="#fff"/>
<rect x="684.30" y="358.50" width="2.70" height="11.00" fill="#fff"/>
<rect x="684.30" y="444.00" width="2.70" height="11.00" fill="#fff"/>
<rect x="684.30" y="470.00" width="2.70" height="11.00" fill="#fff"/>
<rect x="684.30" y="555.50" width="2.70" height="11.00" fill="#fff"/>
<rect x="684.30" y="581.50" width="2.70" height="11.00" fill="#fff"/>
<rect x="684.30" y="667.00" width="2.70" height="11.00" fill="#fff"/>
<rect x="684.30" y="693.00" width="2.70" height="11.00" fill="#fff"/>
<rect x="684.30" y="778.50" width="2.70" height="11.00" fill="#fff"/>
<rect x="684.30" y="804.50" width="2.70" height="11.00" fill="#fff"/>
<rect x="684.30" y="890.00" width="2.70" height="11.00" fill="#fff"/>
<rect x="684.30" y="916.00" width="2.70" height="11.00" fill="#fff"/>
<rect x="684.30" y="1001.50" width="2.70" height="11.00" fill="#fff"/>
<rect x="684.30" y="1027.50" width="2.70" height="11.00" fill="#fff"/>
<rect x="684.30" y="1113.00" width="2.70" height="11.00" fill="#fff"/>
<rect x="684.30" y="1139.00" width="2.70" height="11.00" fill="#fff"/>
<rect x="684.30" y="1224.50" width="2.70" height="11.00" fill="#fff"/>
<rect x="684.30" y="1250.50" width="2.70" height="11.00" fill="#fff"/>
<rect x="684.30" y="1336.00" width="2.70" height="-28.50" fill="#fff"/>
<text x="172.79" y="289.4" font-size="21" font-weight="bold" font-style="normal" fill="#000" stroke="#000" stroke-width="0.85" textLength="143.16" lengthAdjust="spacingAndGlyphs">BEDROOM 2</text>
<text x="167.15" y="309.6" font-size="14.5" font-weight="bold" font-style="italic" fill="#000" stroke="#000" stroke-width="0.2" textLength="156.84" lengthAdjust="spacingAndGlyphs">(±10'-9&quot; x 11'-4&quot;)</text>
<text x="464.49" y="289.4" font-size="21" font-weight="bold" font-style="normal" fill="#000" stroke="#000" stroke-width="0.85" textLength="143.45" lengthAdjust="spacingAndGlyphs">BEDROOM 3</text>
<text x="458.21" y="309.6" font-size="14.5" font-weight="bold" font-style="italic" fill="#000" stroke="#000" stroke-width="0.2" textLength="157.75" lengthAdjust="spacingAndGlyphs">(±10'-5&quot; x 11'-4&quot;)</text>
<text x="559.29" y="616.4" font-size="21" font-weight="bold" font-style="normal" fill="#000" stroke="#000" stroke-width="0.85" textLength="63.92" lengthAdjust="spacingAndGlyphs">BATH</text>
<text x="523.89" y="636" font-size="14.5" font-weight="bold" font-style="italic" fill="#000" stroke="#000" stroke-width="0.2" textLength="134.87" lengthAdjust="spacingAndGlyphs">(±6'-4&quot; x 9'-8&quot;)</text>
<text x="369.13" y="852.2" font-size="21" font-weight="bold" font-style="normal" fill="#000" stroke="#000" stroke-width="0.85" textLength="105.91" lengthAdjust="spacingAndGlyphs">ENSUITE</text>
<text x="348.88" y="872.6" font-size="14.5" font-weight="bold" font-style="italic" fill="#000" stroke="#000" stroke-width="0.2" textLength="147.08" lengthAdjust="spacingAndGlyphs">(±5'-8&quot; x 10'-6&quot;)</text>
<text x="555.90" y="866.3" font-size="21" font-weight="bold" font-style="normal" fill="#000" stroke="#000" stroke-width="0.85" textLength="72.75" lengthAdjust="spacingAndGlyphs">W.I.C.</text>
<text x="523.44" y="887.3" font-size="14.5" font-weight="bold" font-style="italic" fill="#000" stroke="#000" stroke-width="0.2" textLength="136.03" lengthAdjust="spacingAndGlyphs">(±6'-4&quot; x 6'-6&quot;)</text>
<text x="188.21" y="1161.5" font-size="21" font-weight="bold" font-style="normal" fill="#000" stroke="#000" stroke-width="0.85" textLength="59.94" lengthAdjust="spacingAndGlyphs">LOFT</text>
<text x="187.32" y="1185.9" font-size="21" font-weight="bold" font-style="normal" fill="#000" stroke="#000" stroke-width="0.85" textLength="64.26" lengthAdjust="spacingAndGlyphs">AREA</text>
<text x="139.94" y="1205.7" font-size="14.5" font-weight="bold" font-style="italic" fill="#000" stroke="#000" stroke-width="0.2" textLength="157.89" lengthAdjust="spacingAndGlyphs">(±8'-10&quot; x 9'-10&quot;)</text>
<text x="462.56" y="1140.3" font-size="21" font-weight="bold" font-style="normal" fill="#000" stroke="#000" stroke-width="0.85" textLength="96.36" lengthAdjust="spacingAndGlyphs">MASTER</text>
<text x="451.40" y="1163.9" font-size="21" font-weight="bold" font-style="normal" fill="#000" stroke="#000" stroke-width="0.85" textLength="119.85" lengthAdjust="spacingAndGlyphs">BEDROOM</text>
<text x="431.85" y="1185.0" font-size="14.5" font-weight="bold" font-style="italic" fill="#000" stroke="#000" stroke-width="0.2" textLength="156.89" lengthAdjust="spacingAndGlyphs">(±12'-4&quot; x 14'-3&quot;)</text>
<text x="403.14" y="632.8" font-size="12" font-weight="normal" font-style="normal" fill="#111" stroke="#111" stroke-width="0.15" textLength="38.07" lengthAdjust="spacingAndGlyphs">LINEN</text>
<text x="397.85" y="647.8" font-size="12" font-weight="normal" font-style="normal" fill="#111" stroke="#111" stroke-width="0.15" textLength="47.64" lengthAdjust="spacingAndGlyphs">CLOSET</text>
<text x="413.35" y="706.7" font-size="12" font-weight="normal" font-style="normal" fill="#111" stroke="#111" stroke-width="0.15" textLength="57.10" lengthAdjust="spacingAndGlyphs">48&quot; x 36&quot;</text>
<text x="427.40" y="721.3" font-size="12" font-weight="normal" font-style="normal" fill="#111" stroke="#111" stroke-width="0.15" textLength="28.16" lengthAdjust="spacingAndGlyphs">TILE</text>
<text x="413.60" y="736" font-size="12" font-weight="normal" font-style="normal" fill="#111" stroke="#111" stroke-width="0.15" textLength="55.71" lengthAdjust="spacingAndGlyphs">SHOWER</text>
<text x="578.20" y="733.4" font-size="12" font-weight="normal" font-style="normal" fill="#111" stroke="#111" stroke-width="0.15" textLength="45.42" lengthAdjust="spacingAndGlyphs">5' TUB/</text>
<text x="573.61" y="747.8" font-size="12" font-weight="normal" font-style="normal" fill="#111" stroke="#111" stroke-width="0.15" textLength="55.44" lengthAdjust="spacingAndGlyphs">SHOWER</text>
<text x="122.48" y="606" font-size="12" font-weight="normal" font-style="normal" fill="#111" stroke="#111" stroke-width="0.15" textLength="58.89" lengthAdjust="spacingAndGlyphs">LAUNDRY</text>
<text x="127.99" y="621.5" font-size="12" font-weight="normal" font-style="normal" fill="#111" stroke="#111" stroke-width="0.15" textLength="48.45" lengthAdjust="spacingAndGlyphs">CLOSET</text>
<text x="130.44" y="578.2" font-size="12" font-weight="normal" font-style="normal" fill="#111" stroke="#111" stroke-width="0.15" textLength="10.66" lengthAdjust="spacingAndGlyphs">W</text>
<text x="131.53" y="649.4" font-size="12" font-weight="normal" font-style="normal" fill="#111" stroke="#111" stroke-width="0.15" textLength="8.47" lengthAdjust="spacingAndGlyphs">D</text>
<text x="295.94" y="1499.3" font-size="21" font-weight="bold" font-style="normal" fill="#000" stroke="#000" stroke-width="0.85" textLength="81.52" lengthAdjust="spacingAndGlyphs">UNIT 1</text>
<text x="386.88" y="1499.3" font-size="14.5" font-weight="bold" font-style="italic" fill="#000" stroke="#000" stroke-width="0.2" textLength="89.82" lengthAdjust="spacingAndGlyphs">- ± 962 ft²</text>
<text x="311.04" y="1519.5" font-size="15" font-weight="bold" font-style="italic" fill="#000" stroke="#000" stroke-width="0.2" textLength="149.08" lengthAdjust="spacingAndGlyphs">(+ Stair Opening)</text>
<line x1="171.7" y1="293.4" x2="317.3" y2="293.4" stroke="#555" stroke-width="1.3" />
<line x1="464.3" y1="293.4" x2="609.1" y2="293.4" stroke="#555" stroke-width="1.3" />
<line x1="558.7" y1="620.5" x2="623.8" y2="620.5" stroke="#555" stroke-width="1.3" />
<line x1="368.4" y1="857.1" x2="475.7" y2="857.1" stroke="#555" stroke-width="1.3" />
<line x1="554.2" y1="870.7" x2="629.5" y2="870.7" stroke="#555" stroke-width="1.3" />
<line x1="187.9" y1="1166.3" x2="249.1" y2="1166.3" stroke="#555" stroke-width="1.3" />
<line x1="186.3" y1="1190.5" x2="251.8" y2="1190.5" stroke="#555" stroke-width="1.3" />
<line x1="461.3" y1="1144.7" x2="560.3" y2="1144.7" stroke="#555" stroke-width="1.3" />
<line x1="450.3" y1="1169" x2="572.4" y2="1169" stroke="#555" stroke-width="1.3" />
<line x1="295.5" y1="1503.5" x2="379.8" y2="1503.5" stroke="#444" stroke-width="1.4" />
<text transform="translate(146.5,931.8) rotate(-90)" x="-0.5" y="0" font-size="12.8" fill="#111" textLength="16.7" lengthAdjust="spacingAndGlyphs">DN</text>
<rect x="287.40" y="1474.20" width="198.40" height="57.40" fill="none" stroke="#000" stroke-width="2.6"/>
</svg></body></html>
